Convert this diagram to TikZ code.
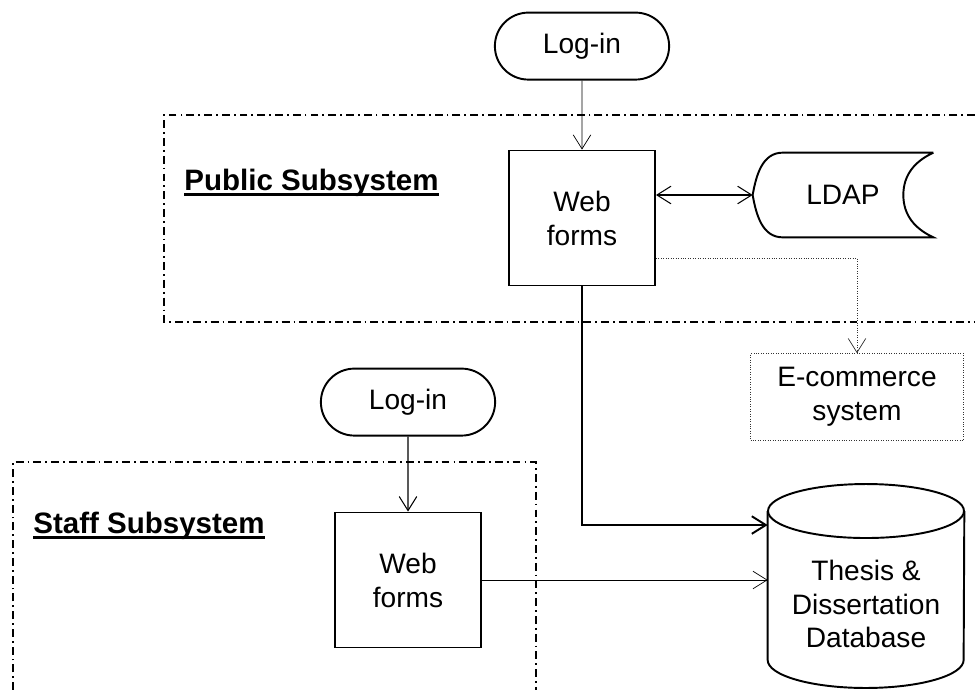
\documentclass[tikz,border=0pt]{standalone}
\usepackage{fontspec}
\setmainfont{Liberation Sans}
\usetikzlibrary{positioning,shapes.misc,arrows.meta}
\tikzset{
    base-font/.style = {font=\fontsize{16}{19.3}\selectfont},
    login-box/.style = {draw, line width=1.1pt, rounded rectangle, minimum width=3.72cm, minimum height=1.34cm, base-font},
    form-box/.style = {draw, line width=1.1pt, rectangle, minimum width=2.92cm, minimum height=2.7cm, align=center, base-font},
    store-box/.style = {rectangle, inner sep=0pt, align=center, base-font},
    ecom-box/.style = {draw=black!80, densely dotted, thin, rectangle, minimum width=4.26cm, minimum height=1.74cm, align=center, base-font},
    sub-frame/.style = {line width=1.4pt, dash pattern=on 4.5pt off 2.3pt on 1pt off 2.3pt},
    sub-title/.style = {anchor=base west, inner sep=0pt, font=\fontsize{16.8}{20}\selectfont\bfseries},
    title-rule/.style = {line width=1.5pt},
    flow-line/.style = {-{Straight Barb[length=8pt,width=10pt]}},
    shape-line/.style = {line width=1.1pt},
}
\begin{document}
\begin{tikzpicture}[x=0.02cm, y=-0.02cm]
\useasboundingbox (0,0) rectangle (975,690);
\draw[sub-frame] (975,115) -| (164,322) -- (975,322);
\draw[sub-frame] (13,690) |- (536,462) -- (536,690);
\node[sub-title] (pubtitle) at (184,190) {Public Subsystem};
\draw[title-rule] ([yshift=-2.4pt]pubtitle.base west) -- ([yshift=-2.4pt]pubtitle.base east);
\node[sub-title] (stafftitle) at (33,533) {Staff Subsystem};
\draw[title-rule] ([yshift=-2.4pt]stafftitle.base west) -- ([yshift=-2.4pt]stafftitle.base east);

\node[form-box] (wfpub) at (582,218) {Web\\forms};
\node[login-box, above=1.38cm of wfpub] (loginpub) {Log-in};
\node[form-box] (wfstaff) at (408,580) {Web\\forms};
\node[login-box, above=1.5cm of wfstaff] (loginstaff) {Log-in};
\node[ecom-box] (ecom) at (857,397) {E-commerce\\system};

\node[store-box, minimum width=3.6cm, minimum height=1.68cm] (ldap) at (843,195) {LDAP};
\draw[shape-line] (ldap.north east) -- ([xshift=0.6cm]ldap.north west) to[out=180,in=80] (ldap.west)
    to[out=-80,in=180] ([xshift=0.6cm]ldap.south west) -- (ldap.south east)
    to[out=155,in=-90] ([xshift=-0.6cm]ldap.east) to[out=90,in=-155] (ldap.north east);

\node[store-box, minimum width=3.92cm] (db) at (866,604) {Thesis \&\\Dissertation\\Database};
\draw[shape-line] ([yshift=1.86cm]db.center) ellipse [x radius=1.96cm, y radius=0.54cm];
\draw[shape-line] ([yshift=1.86cm]db.west) -- ([yshift=-1.12cm]db.west)
    arc[start angle=180, end angle=360, x radius=1.96cm, y radius=0.56cm] -- ([yshift=1.86cm]db.east);

\draw[flow-line, thin] (loginpub) -- (wfpub);
\draw[flow-line, semithick] (loginstaff) -- (wfstaff);
\draw[{Straight Barb[length=8pt,width=10pt]}-{Straight Barb[length=8pt,width=10pt]}, semithick] (wfpub.east |- ldap.west) -- (ldap.west);
\draw[flow-line, line width=1.1pt] (wfpub.south) |- ([yshift=1.58cm]db.west);
\draw[flow-line, thin] (wfstaff.east) -- (wfstaff.east -| db.west);
\draw[flow-line, densely dotted, black!80] ([yshift=-0.8cm]wfpub.east) -| (ecom.north);
\end{tikzpicture}
\end{document}
